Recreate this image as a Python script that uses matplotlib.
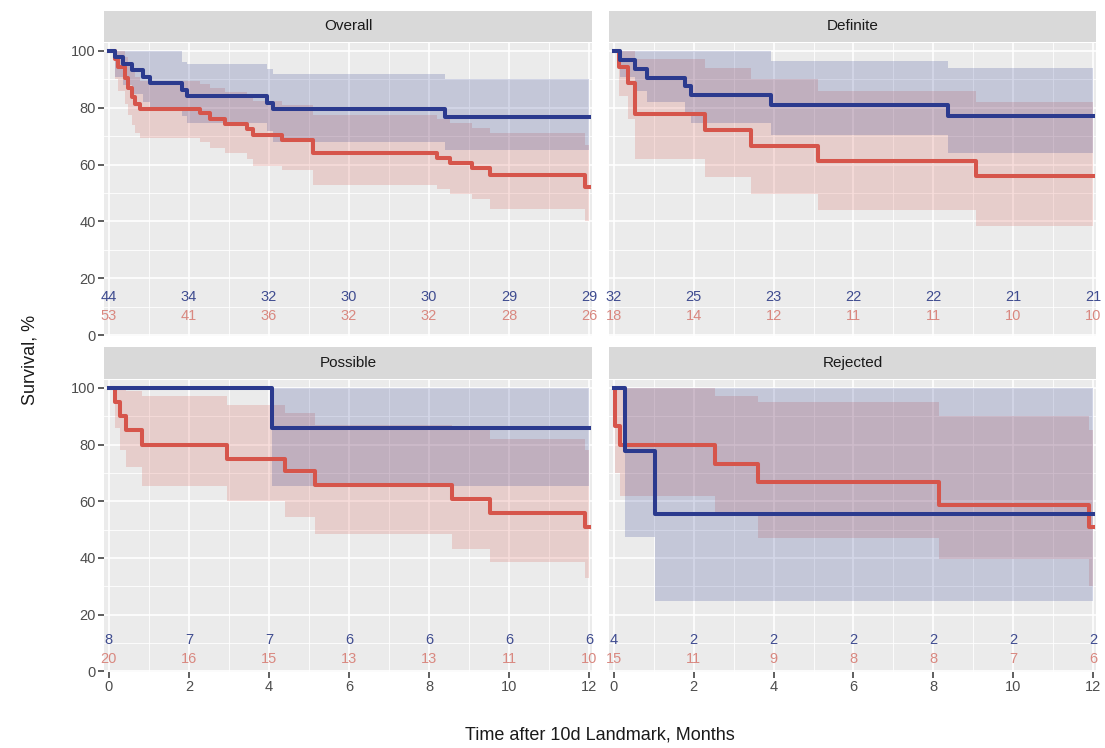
import matplotlib.pyplot as plt
from matplotlib.ticker import MultipleLocator

plt.rcParams['font.family'] = ['Liberation Sans', 'DejaVu Sans']

# facets and number-at-risk grid
panels = ["Overall", "Definite", "Possible", "Rejected"]
risk_times = [0, 2, 4, 6, 8, 10, 12]
follow_up = 12

# Overall
overall_blue_t = [0, 0.15, 0.36, 0.57, 0.86, 1.03, 1.82, 1.96, 3.94, 4.11, 8.4]
overall_blue_s = [100, 97.7, 95.5, 93.2, 90.9, 88.6, 86.4, 84.1, 81.8, 79.5, 76.8]
overall_blue_lo = [100, 91, 88, 85, 82, 79.5, 77, 74.5, 72, 68, 65]
overall_blue_hi = [100, 100, 100, 100, 100, 100, 96, 95.4, 93.5, 92, 90]
overall_red_t = [0, 0.15, 0.23, 0.4, 0.48, 0.57, 0.65, 0.78, 2.28, 2.53, 2.9,
                 3.44, 3.61, 4.32, 5.11, 8.19, 8.53, 9.07, 9.53, 11.9]
overall_red_s = [100, 97.2, 94.3, 90.5, 86.8, 83.8, 81.2, 79.5, 78.0, 76.2, 74.4,
                 72.6, 70.4, 68.5, 64.2, 62.5, 60.6, 58.7, 56.5, 52.2]
overall_red_lo = [100, 90, 86, 81.5, 77.5, 74, 71, 69.5, 68, 66, 64,
                  62, 59.5, 58, 53, 51.5, 49.5, 48, 44.5, 40]
overall_red_hi = [100, 100, 100, 98, 95.5, 93, 91, 89.5, 88.5, 87, 85.5,
                  84, 82.5, 81, 77.5, 76, 74.5, 73, 71, 67]
overall_blue_risk = [44, 34, 32, 30, 30, 29, 29]
overall_red_risk = [53, 41, 36, 32, 32, 28, 26]

# Definite
definite_blue_t = [0, 0.15, 0.53, 0.82, 1.78, 1.94, 3.94, 8.36]
definite_blue_s = [100, 96.9, 93.8, 90.6, 87.5, 84.4, 80.9, 77.1]
definite_blue_lo = [100, 91, 86, 82, 78, 74.5, 70.5, 64]
definite_blue_hi = [100, 100, 100, 100, 100, 100, 96.5, 94]
definite_red_t = [0, 0.12, 0.35, 0.53, 2.28, 3.44, 5.11, 9.07]
definite_red_s = [100, 94.4, 88.9, 77.8, 72.2, 66.7, 61.4, 56.1]
definite_red_lo = [100, 84, 76, 62, 55.5, 49.5, 44, 38.5]
definite_red_hi = [100, 100, 100, 97, 94, 90, 86, 82]
definite_blue_risk = [32, 25, 23, 22, 22, 21, 21]
definite_red_risk = [18, 14, 12, 11, 11, 10, 10]

# Possible
possible_blue_t = [0, 4.07]
possible_blue_s = [100, 85.7]
possible_blue_lo = [100, 65.3]
possible_blue_hi = [100, 100]
possible_red_t = [0, 0.15, 0.28, 0.44, 0.82, 2.94, 4.4, 5.15, 8.57, 9.53, 11.9]
possible_red_s = [100, 95, 90, 85, 80, 75, 70.6, 65.6, 60.9, 55.8, 51]
possible_red_lo = [100, 86, 78, 72, 65.5, 60, 54.5, 48.5, 43, 38.5, 33]
possible_red_hi = [100, 100, 100, 99, 97, 94, 91, 87, 85, 82, 78]
possible_blue_risk = [8, 7, 7, 6, 6, 6, 6]
possible_red_risk = [20, 16, 15, 13, 13, 11, 10]

# Rejected
rejected_blue_t = [0, 0.28, 1.03]
rejected_blue_s = [100, 77.8, 55.6]
rejected_blue_lo = [100, 47.5, 24.8]
rejected_blue_hi = [100, 100, 100]
rejected_red_t = [0, 0.02, 0.15, 2.53, 3.61, 8.15, 11.9]
rejected_red_s = [100, 86.7, 80, 73.3, 66.7, 58.5, 51]
rejected_red_lo = [100, 70, 62, 55, 47, 39.5, 30]
rejected_red_hi = [100, 100, 100, 97, 95, 90, 85]
rejected_blue_risk = [4, 2, 2, 2, 2, 2, 2]
rejected_red_risk = [15, 11, 9, 8, 8, 7, 6]

BLUE = "#2B3A8E"
RED = "#D6554B"
BLUE_TXT = "#3F4C90"
RED_TXT = "#D98880"

W, H = 1105, 748
fig = plt.figure(figsize=(W / 100, H / 100), dpi=100)


def frac_box(x0, y0, x1, y1):
    """pixel box (top-left origin) -> figure fraction rect"""
    return [x0 / W, 1 - y1 / H, (x1 - x0) / W, (y1 - y0) / H]


def draw_curve(ax, t, s, lo, hi, color):
    tt = list(t) + [follow_up]
    ax.fill_between(tt, list(lo) + [lo[-1]], list(hi) + [hi[-1]], step='post',
                    color=color, alpha=0.2, lw=0, zorder=2)
    return tt, list(s) + [s[-1]]


cols = [(104, 592), (609, 1096)]
rows = [(11, 43, 336), (347, 380, 672)]
risk_y = [(13.3, 6.8), (11.0, 4.2)]

data = {
    "Overall": (overall_blue_t, overall_blue_s, overall_blue_lo, overall_blue_hi,
                overall_red_t, overall_red_s, overall_red_lo, overall_red_hi,
                overall_blue_risk, overall_red_risk),
    "Definite": (definite_blue_t, definite_blue_s, definite_blue_lo, definite_blue_hi,
                 definite_red_t, definite_red_s, definite_red_lo, definite_red_hi,
                 definite_blue_risk, definite_red_risk),
    "Possible": (possible_blue_t, possible_blue_s, possible_blue_lo, possible_blue_hi,
                 possible_red_t, possible_red_s, possible_red_lo, possible_red_hi,
                 possible_blue_risk, possible_red_risk),
    "Rejected": (rejected_blue_t, rejected_blue_s, rejected_blue_lo, rejected_blue_hi,
                 rejected_red_t, rejected_red_s, rejected_red_lo, rejected_red_hi,
                 rejected_blue_risk, rejected_red_risk),
}

for i, name in enumerate(panels):
    r, c = divmod(i, 2)
    x0, x1 = cols[c]
    s0, s1, y1 = rows[r]
    ax = fig.add_axes(frac_box(x0, s1, x1, y1))
    strip = fig.add_axes(frac_box(x0, s0, x1, s1 - 1))
    strip.set_facecolor("#D9D9D9")
    strip.set_xticks([])
    strip.set_yticks([])
    for sp in strip.spines.values():
        sp.set_visible(False)
    strip.text(0.5, 0.5, name, ha='center', va='center', fontsize=11,
               color="#1A1A1A", transform=strip.transAxes)

    bt, bs, blo, bhi, rt, rs, rlo, rhi, brisk, rrisk = data[name]
    ax.set_facecolor("#EBEBEB")
    rtt, rss = draw_curve(ax, rt, rs, rlo, rhi, RED)
    btt, bss = draw_curve(ax, bt, bs, blo, bhi, BLUE)
    ax.step(rtt, rss, where='post', color=RED, lw=2.9, zorder=3)
    ax.step(btt, bss, where='post', color=BLUE, lw=2.9, zorder=4)

    yb, yr = risk_y[r]
    for tx, nb, nr in zip(risk_times, brisk, rrisk):
        ax.text(tx, yb, str(nb), ha='center', va='center', fontsize=10.5,
                color=BLUE_TXT, zorder=5)
        ax.text(tx, yr, str(nr), ha='center', va='center', fontsize=10.5,
                color=RED_TXT, zorder=5)

    ax.set_xlim(-0.12, 12.07)
    ax.set_ylim(-0.3, 102.8)
    ax.xaxis.set_major_locator(MultipleLocator(2))
    ax.xaxis.set_minor_locator(MultipleLocator(1))
    ax.yaxis.set_major_locator(MultipleLocator(20))
    ax.yaxis.set_minor_locator(MultipleLocator(10))
    ax.grid(which='major', color='white', lw=1.2, zorder=1)
    ax.grid(which='minor', color='white', lw=0.6, zorder=1)
    ax.set_axisbelow(True)
    for sp in ax.spines.values():
        sp.set_visible(False)
    ax.tick_params(which='minor', length=0)
    ax.tick_params(which='major', length=4, width=1.1, color="#333333",
                   labelcolor="#4D4D4D", labelsize=10.5, pad=2)
    if r == 0:
        ax.tick_params(axis='x', length=0, labelbottom=False)
    if c == 1:
        ax.tick_params(axis='y', length=0, labelleft=False)

fig.text(30 / W, 1 - 360 / H, "Survival, %", rotation=90, ha='center', va='center',
         fontsize=13, color="#1A1A1A")
fig.text(600 / W, 1 - 735 / H, "Time after 10d Landmark, Months", ha='center',
         va='center', fontsize=13, color="#1A1A1A")

fig.savefig("out.png", dpi=100, facecolor='white')
